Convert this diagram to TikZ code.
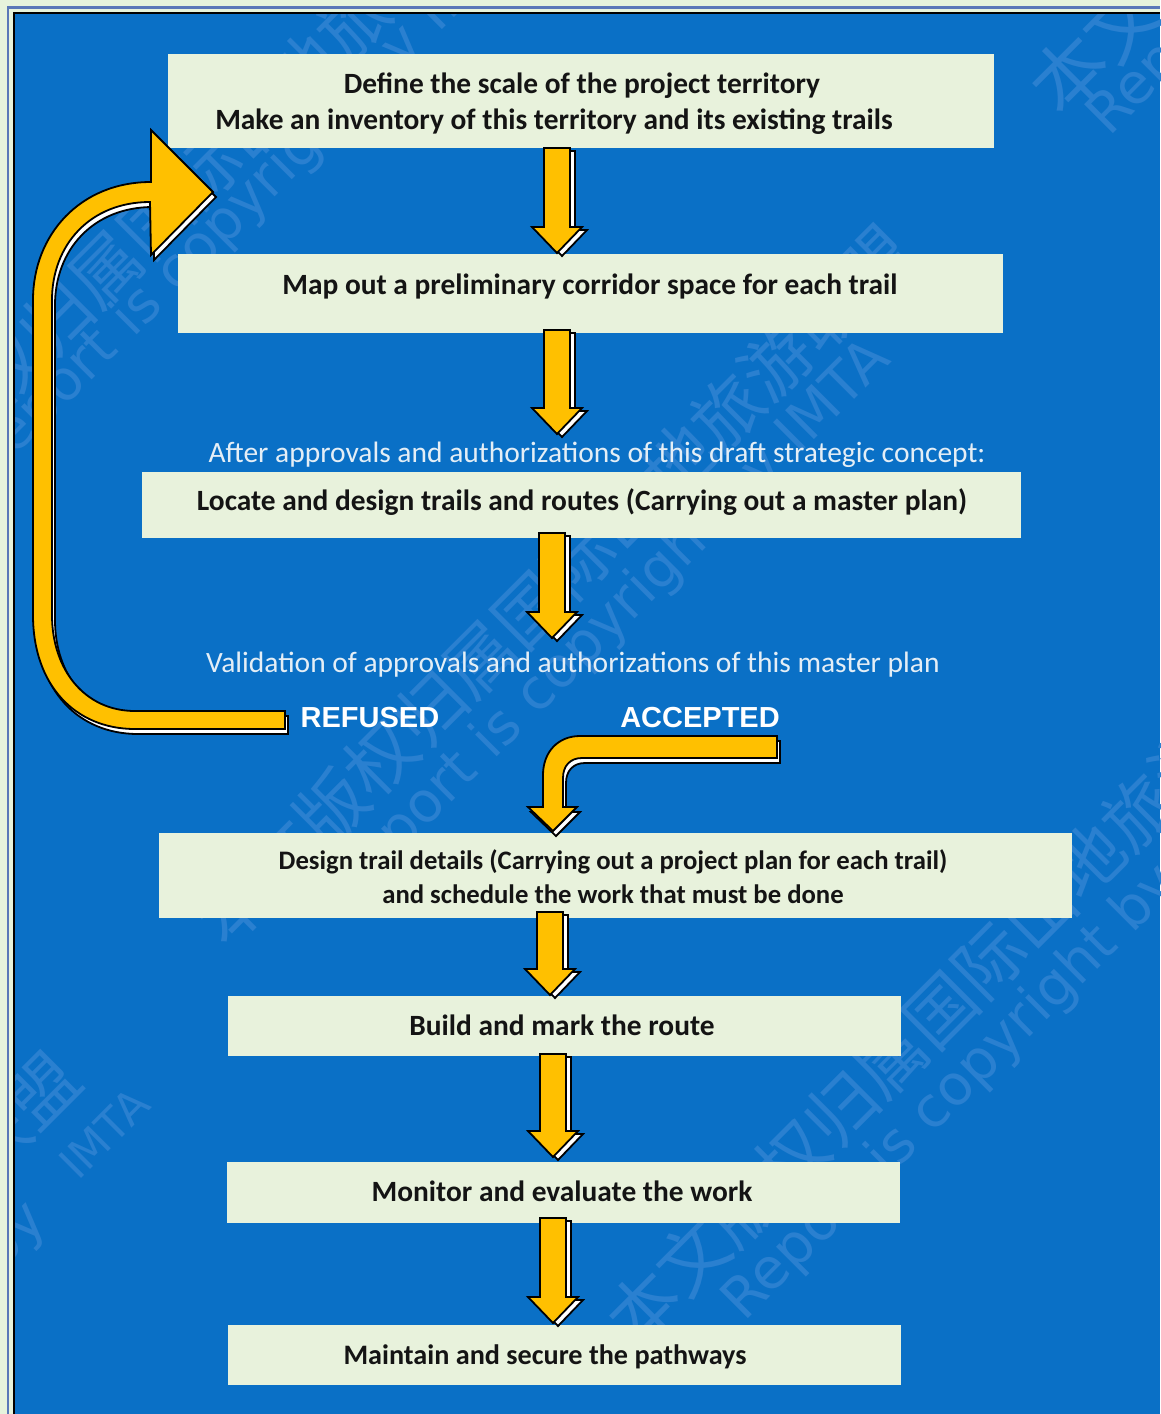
\documentclass[tikz,border=0pt]{standalone}
\usepackage{fontspec}
\setmainfont{Carlito}
\newfontfamily\cjkwm{Noto Sans CJK SC}
\newfontfamily\latinwm{DejaVu Sans}
\newfontfamily\heavy{Liberation Sans}
\usetikzlibrary{calc}
\definecolor{pagegreen}{HTML}{E6F3DC}
\definecolor{fieldblue}{HTML}{0A70C6}
\definecolor{boxgreen}{HTML}{E8F2DC}
\definecolor{amber}{HTML}{FFC000}
\definecolor{wmblue}{HTML}{2A80D0}
\definecolor{labelwhite}{HTML}{E4EEF6}
\definecolor{frameblue}{HTML}{5A78B8}
\tikzset{
  stepbox/.style={fill=boxgreen,draw=none,inner sep=0pt,outer sep=0pt},
  steptext/.style={font=\fontsize{29.4}{34}\selectfont\bfseries,text=black!92,inner sep=0pt,align=center},
  smalltext/.style={font=\fontsize{26.7}{34}\selectfont\bfseries,text=black!92,inner sep=0pt,align=center},
  notetext/.style={font=\fontsize{29.5}{34}\selectfont,text=labelwhite,inner sep=0pt},
  verdict/.style={font=\heavy\fontsize{29}{33}\selectfont\bfseries,text=white,inner sep=0pt},
  mainarrow/.style={fill=amber,draw=black,line width=1.8pt,line join=miter},
  shadowarrow/.style={fill=white,draw=black,line width=1.8pt,line join=miter},
  wmcjk/.style={font=\cjkwm\fontsize{70}{80}\selectfont,text=wmblue,rotate=45,inner sep=0pt},
  wmlat/.style={font=\latinwm\fontsize{56}{60}\selectfont,text=wmblue,rotate=45,inner sep=0pt},
}
\newcommand\boxat[5]{\node[stepbox,minimum width=#4-#2,minimum height=#5-#3,anchor=north west] (#1) at (#2,#3) {};}
\newcommand\arrowpoly[4]{let \p1=(#1),\p2=(#2) in
  (\x1-13pt+#3,\y1+#4) -- (\x1+13pt+#3,\y1+#4) -- (\x1+13pt+#3,\y2+26pt+#4) -- (\x1+25pt+#3,\y2+26pt+#4)
  -- (\x1+#3,\y2+#4) -- (\x1-25pt+#3,\y2+26pt+#4) -- (\x1-13pt+#3,\y2+26pt+#4) -- cycle}
\newcommand\blockdown[2]{%
  \draw[shadowarrow] \arrowpoly{#1}{#2}{5pt}{-3pt};
  \draw[mainarrow] \arrowpoly{#1}{#2}{0pt}{0pt};}
\newcommand\backpath{(285,711) -- (135,711) .. controls (85,711) and (52,670) .. (52,615) -- (52,300)
  .. controls (52,245) and (90,202) .. (150,202) -- (151,255) -- (213,192) -- (151,130) -- (151,182)
  .. controls (80,182) and (33,235) .. (33,300) -- (33,615) .. controls (33,685) and (75,729) .. (135,729)
  -- (285,729) -- cycle}
\newcommand\okpath{(777,736) -- (580,736) .. controls (558,736) and (543,752) .. (543,775) -- (543,807)
  -- (528,807) -- (553,831) -- (577,807) -- (563,807) -- (563,778) .. controls (563,766) and (570,758) .. (582,758)
  -- (777,758) -- cycle}
\begin{document}
\begin{tikzpicture}[x=1pt,y=-1pt]
\useasboundingbox (0,0) rectangle (1160,1414);
\fill[pagegreen] (0,0) rectangle (1160,1414);
\fill[fieldblue] (14,13) rectangle (1160,1414);
\draw[frameblue,line width=2.2pt] (8,1414) -- (8,7.5) -- (1160,7.5);
\draw[black,line width=2.5pt] (14,1414) -- (14,13) -- (1160,13);
% watermark
\begin{scope}
\clip (15,14) rectangle (1160,1414);
\node[wmcjk] (wm1) at (554,585) {本文版权归属国际山地旅游联盟};
\node[wmlat] (wl1) at (610,622) {Report is copyright by IMTA};
\node[wmcjk] (wm2) at (965,985) {本文版权归属国际山地旅游联盟};
\node[wmlat] (wl2) at (1005,1040) {Report is copyright by IMTA};
\node[wmcjk] (wm3) at (180,195) {本文版权归属国际山地旅游联盟};
\node[wmlat] (wl3) at (250,200) {Report is copyright by IMTA};
\node[wmcjk,font=\cjkwm\fontsize{75}{80}\selectfont] (wm4) at (1414,-271) {本文版权归属国际山地旅游联盟};
\node[wmlat] (wl4) at (1370,-145) {Report is copyright by IMTA};
\node[wmcjk,anchor=east] (wm5) at (68,1066) {联盟};
\node[wmlat,font=\latinwm\fontsize{44}{46}\selectfont] (wl5) at (104,1133) {IMTA};
\node[wmlat,anchor=east] (wl6) at (38,1212) {by};
\end{scope}
% boxes
\boxat{stepA}{168}{54}{994}{148}
\boxat{stepB}{178}{254}{1003}{333}
\boxat{stepC}{142}{472}{1021}{538}
\boxat{stepD}{159}{833}{1072}{918}
\boxat{stepE}{228}{996}{901}{1056}
\boxat{stepF}{227}{1162}{900}{1223}
\boxat{stepG}{228}{1325}{901}{1385}
% texts
\node[steptext] (tA1) at (582,86) {Define the scale of the project territory};
\node[steptext] (tA2) at (554,122) {Make an inventory of this territory and its existing trails};
\node[steptext] (tB) at (590,286) {Map out a preliminary corridor space for each trail};
\node[notetext] (nC) at (597,455) {After approvals and authorizations of this draft strategic concept:};
\node[steptext] (tC) at (582,502) {Locate and design trails and routes (Carrying out a master plan)};
\node[notetext] (nV) at (573,665) {Validation of approvals and authorizations of this master plan};
\node[verdict] (ref) at (370,718) {REFUSED};
\node[verdict] (acc) at (700,718) {ACCEPTED};
\node[smalltext] (tD) at (613,877) {Design trail details (Carrying out a project plan for each trail)\\and schedule the work that must be done};
\node[steptext] (tE) at (562,1025) {Build and mark the route};
\node[steptext] (tF) at (562,1191) {Monitor and evaluate the work};
\node[steptext,font=\fontsize{28.2}{34}\selectfont\bfseries] (tG) at (545,1357) {Maintain and secure the pathways};
% straight arrows
\coordinate (a1s) at (557,0 |- stepA.south);
\coordinate (a1e) at ($(557,0 |- stepB.north)+(0,-1)$);
\coordinate (a2s) at ($(557,0 |- stepB.south)+(0,-3)$);
\coordinate (a2e) at (557,434);
\coordinate (a3s) at ($(552,0 |- stepC.south)+(0,-5)$);
\coordinate (a3e) at (552,638);
\coordinate (a4s) at ($(550,0 |- stepD.south)+(0,-6)$);
\coordinate (a4e) at ($(550,0 |- stepE.north)+(0,-1)$);
\coordinate (a5s) at ($(553,0 |- stepE.south)+(0,-2)$);
\coordinate (a5e) at ($(553,0 |- stepF.north)+(0,-5)$);
\coordinate (a6s) at ($(553,0 |- stepF.south)+(0,-5)$);
\coordinate (a6e) at ($(553,0 |- stepG.north)+(0,-2)$);
\blockdown{a1s}{a1e}
\blockdown{a2s}{a2e}
\blockdown{a3s}{a3e}
\blockdown{a4s}{a4e}
\blockdown{a5s}{a5e}
\blockdown{a6s}{a6e}
% bent arrows
\begin{scope}[shift={(3,5)}]
\draw[shadowarrow] \backpath;
\draw[shadowarrow] \okpath;
\end{scope}
\draw[mainarrow] \backpath;
\draw[mainarrow] \okpath;
\end{tikzpicture}
\end{document}
